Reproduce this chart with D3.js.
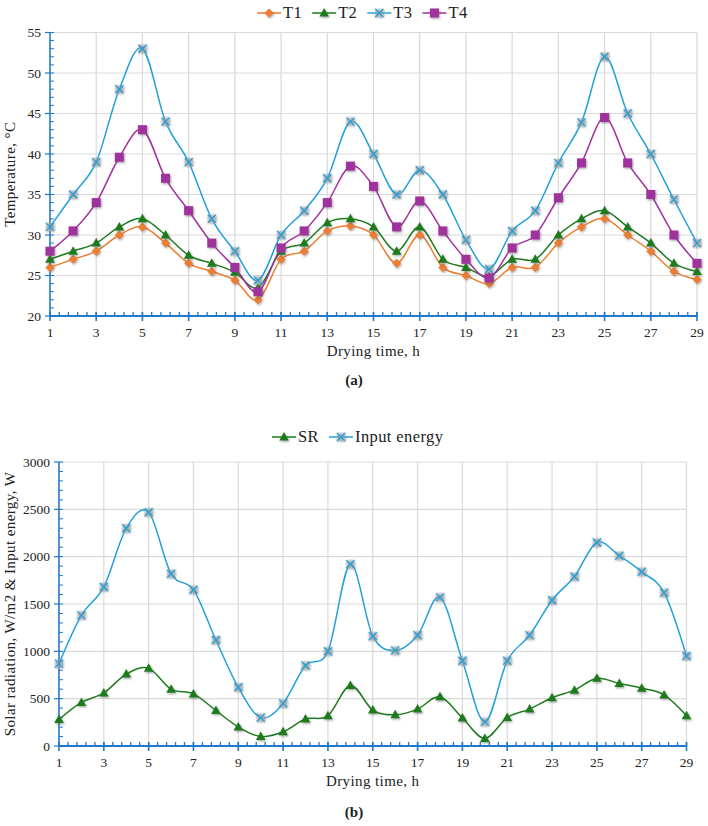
<!DOCTYPE html>
<html><head><meta charset="utf-8">
<script src="https://cdn.jsdelivr.net/npm/d3@7"></script>
<style>
body{margin:0;background:#fff;}
text{font-family:"Liberation Serif","DejaVu Serif",serif;fill:#222;}
</style></head>
<body>
<svg id="c" width="708" height="826"></svg>
<script>
// ---- data ----
const hours = [1,2,3,4,5,6,7,8,9,10,11,12,13,14,15,16,17,18,19,20,21,22,23,24,25,26,27,28,29];
const xTickLabels = [1,3,5,7,9,11,13,15,17,19,21,23,25,27,29];
const T1 = [26,27,28,30,31,29,26.5,25.5,24.4,22,27,28,30.5,31.1,30,26.5,30,26,25,24,26,26,29,31,32,30,28,25.5,24.5];
const T2 = [27,28,29,31,32,30,27.5,26.5,25.4,23.5,28,29,31.5,32,31,28,31,27,26,24.9,27,27,30,32,33,31,29,26.5,25.5];
const T3 = [31,35,39,48,53,44,39,32,28,24.4,30,33,37,44,40,35,38,35,29.4,25.8,30.5,33,38.9,43.9,52,45,40,34.4,29];
const T4 = [28,30.5,34,39.6,43,37,33,29,26,23,28.4,30.5,34,38.5,36,31,34.2,30.5,27,24.7,28.4,30,34.6,38.9,44.5,38.9,35,30,26.5];
const SR = [280,460,560,760,820,600,550,375,200,100,150,285,320,640,380,330,390,520,295,80,300,390,510,590,715,660,610,540,320];
const InputEnergy = [870,1380,1680,2300,2470,1820,1650,1120,620,300,450,850,1000,1920,1160,1010,1170,1570,900,255,900,1170,1540,1790,2150,2010,1840,1620,950];
const tempTicks = [20,25,30,35,40,45,50,55];
const energyTicks = [0,500,1000,1500,2000,2500,3000];

const COL = {orange:"#ED7D31", green:"#1E7B1E", blue:"#21A0DB", purple:"#A0309E", axis:"#1F78C8", grid:"#D9D9D9"};

const svg = d3.select("#c");
const defs = svg.append("defs");
const f = defs.append("filter").attr("id","sh").attr("x","-50%").attr("y","-50%").attr("width","200%").attr("height","200%");
f.append("feDropShadow").attr("dx",1).attr("dy",1.2).attr("stdDeviation",0.9).attr("flood-color","#555").attr("flood-opacity",0.55);
const fb = defs.append("filter").attr("id","blur");
fb.append("feGaussianBlur").attr("stdDeviation",0.8);

function marker(g, type, color, x, y){
  if(type==="diamond"){
    g.append("path").attr("d",`M${x},${y-4.5}L${x+4.5},${y}L${x},${y+4.5}L${x-4.5},${y}Z`).attr("fill",color).attr("filter","url(#sh)");
  } else if(type==="triangle"){
    g.append("path").attr("d",`M${x},${y-5}L${x+4.8},${y+3.5}L${x-4.8},${y+3.5}Z`).attr("fill",color).attr("filter","url(#sh)");
  } else if(type==="square"){
    g.append("rect").attr("x",x-4.5).attr("y",y-4.5).attr("width",9).attr("height",9).attr("fill",color).attr("filter","url(#sh)");
  } else if(type==="x"){
    g.append("rect").attr("x",x-4).attr("y",y-4).attr("width",9).attr("height",9).attr("rx",1.5).attr("fill","#9a9a9a").attr("opacity",0.75).attr("filter","url(#blur)");
    g.append("path").attr("d",`M${x-4},${y-4}L${x+4},${y+4}M${x-4},${y+4}L${x+4},${y-4}`).attr("stroke",color).attr("stroke-width",1.3).attr("fill","none");
  }
}

function chart(o){
  const x = d3.scaleLinear().domain([1,29]).range([o.left,o.right]);
  const y = d3.scaleLinear().domain(o.yDomain).range([o.bottom,o.top]);
  const g = svg.append("g");
  // grid
  g.selectAll(null).data(o.yTicks).join("line")
    .attr("x1",o.left).attr("x2",o.right).attr("y1",d=>y(d)).attr("y2",d=>y(d))
    .attr("stroke",COL.grid).attr("stroke-width",1.2);
  g.selectAll(null).data(xTickLabels).join("line")
    .attr("x1",d=>x(d)).attr("x2",d=>x(d)).attr("y1",o.top).attr("y2",o.bottom)
    .attr("stroke",COL.grid).attr("stroke-width",1.2);
  // series
  const line = d3.line().x((d,i)=>x(hours[i])).y(d=>y(d)).curve(d3.curveCardinal.tension(0));
  o.series.forEach(s=>{
    g.append("path").attr("d",line(s.values)).attr("fill","none").attr("stroke",s.color).attr("stroke-width",1.5);
  });
  // x axis
  const ax = o.axisColor;
  g.append("line").attr("x1",o.left).attr("x2",o.right).attr("y1",o.bottom).attr("y2",o.bottom).attr("stroke",ax).attr("stroke-width",2);
  const minor = d3.range(1, 29.001, 0.4);
  g.selectAll(null).data(minor).join("line")
    .attr("x1",d=>x(d)).attr("x2",d=>x(d)).attr("y1",o.bottom-4).attr("y2",o.bottom)
    .attr("stroke",ax).attr("stroke-width",1.3);
  g.selectAll(null).data(xTickLabels).join("line")
    .attr("x1",d=>x(d)).attr("x2",d=>x(d)).attr("y1",o.bottom-4).attr("y2",o.bottom+5)
    .attr("stroke",ax).attr("stroke-width",1.6);
  g.selectAll(null).data(xTickLabels).join("text")
    .attr("x",d=>x(d)).attr("y",o.bottom+21).attr("text-anchor","middle").attr("font-size",13.5).text(d=>d);
  // y axis
  g.append("line").attr("x1",o.left).attr("x2",o.left).attr("y1",o.top).attr("y2",o.bottom).attr("stroke",ax).attr("stroke-width",1.5);
  const step = (o.yTicks[1]-o.yTicks[0])/5;
  const yMinor = d3.range(o.yDomain[0], o.yDomain[1]+step/2, step);
  g.selectAll(null).data(yMinor).join("line")
    .attr("x1",o.left).attr("x2",o.left+4).attr("y1",d=>y(d)).attr("y2",d=>y(d))
    .attr("stroke",ax).attr("stroke-width",1);
  g.selectAll(null).data(o.yTicks).join("line")
    .attr("x1",o.left-5).attr("x2",o.left).attr("y1",d=>y(d)).attr("y2",d=>y(d))
    .attr("stroke",ax).attr("stroke-width",1.2);
  g.selectAll(null).data(o.yTicks).join("text")
    .attr("x",o.left-9).attr("y",d=>y(d)+4.5).attr("text-anchor","end").attr("font-size",13.5).text(d=>d);
  // markers
  o.series.forEach(s=>{
    s.values.forEach((v,i)=> marker(g, s.marker, s.color, x(hours[i]), y(v)));
  });
  // titles
  g.append("text").attr("x",(o.left+o.right)/2).attr("y",o.bottom+40).attr("text-anchor","middle").attr("font-size",15).attr("letter-spacing",0.4).text("Drying time, h");
  g.append("text").attr("transform",`translate(${o.yTitleX},${(o.top+o.bottom)/2}) rotate(-90)`).attr("text-anchor","middle").attr("font-size",15).attr("letter-spacing",0.4).text(o.yTitle);
  g.append("text").attr("x",354).attr("y",o.labelY).attr("text-anchor","middle").attr("font-size",15).attr("font-weight","bold").text(o.label);
  // legend
  const lg = g.append("g");
  let cx = o.legendX;
  o.series.forEach(s=>{
    lg.append("line").attr("x1",cx).attr("x2",cx+24).attr("y1",o.legendY).attr("y2",o.legendY).attr("stroke",s.color).attr("stroke-width",1.5);
    marker(lg, s.marker, s.color, cx+12, o.legendY);
    const t = lg.append("text").attr("x",cx+26).attr("y",o.legendY+5).attr("font-size",16.5).attr("letter-spacing",0.4).text(s.name);
    cx += 26 + t.node().getComputedTextLength() + 10;
  });
}

chart({left:50,right:697,top:32.5,bottom:316,yDomain:[20,55],yTicks:tempTicks,axisColor:COL.axis,
  yTitle:"Temperature, °C", yTitleX:15, label:"(a)", labelY:385, legendX:257, legendY:13,
  series:[
    {name:"T1",values:T1,color:COL.orange,marker:"diamond"},
    {name:"T2",values:T2,color:COL.green,marker:"triangle"},
    {name:"T3",values:T3,color:COL.blue,marker:"x"},
    {name:"T4",values:T4,color:COL.purple,marker:"square"}
  ]});

chart({left:59,right:686.5,top:462,bottom:746,yDomain:[0,3000],yTicks:energyTicks,axisColor:COL.axis,
  yTitle:"Solar radiation, W/m2 & Input energy, W", yTitleX:15, label:"(b)", labelY:817, legendX:272, legendY:437,
  series:[
    {name:"SR",values:SR,color:COL.green,marker:"triangle"},
    {name:"Input energy",values:InputEnergy,color:COL.blue,marker:"x"}
  ]});
</script>
</body></html>
